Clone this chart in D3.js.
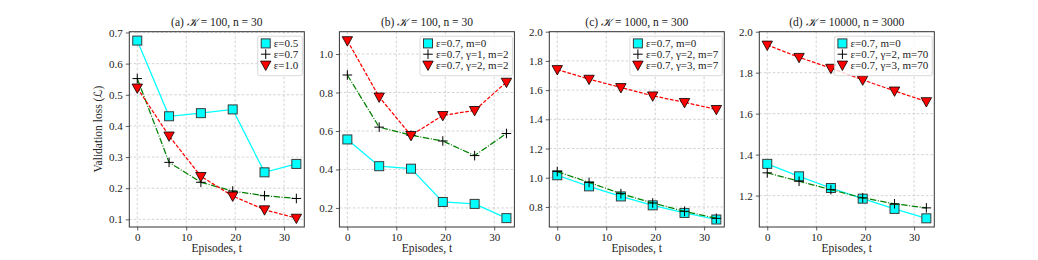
<!DOCTYPE html>
<html><head><meta charset="utf-8">
<script src="https://cdn.jsdelivr.net/npm/d3@7"></script>
<style>
body{margin:0;background:#fff}
text{font-family:"Liberation Serif","Times New Roman",Times,serif;fill:#222}
</style>
</head><body>
<svg id="chart" width="1038" height="260"></svg>
<script>
// ---------------- data ----------------
const episodes = [0, 6.5, 13, 19.5, 26, 32.5];
const xTicks = [0, 10, 20, 30];

const titles = ["(a) ", "(b) ", "(c) ", "(d) "];
const titleTail = [" = 100, n = 30", " = 100, n = 30", " = 1000, n = 300", " = 10000, n = 3000"];

// panel (a)
const aEps05 = [0.674, 0.431, 0.441, 0.453, 0.251, 0.278];
const aEps07 = [0.552, 0.283, 0.219, 0.191, 0.176, 0.167];
const aEps10 = [0.522, 0.368, 0.238, 0.175, 0.131, 0.104];
const aLabels = ["ε=0.5", "ε=0.7", "ε=1.0"];
const aTicks = [0.1, 0.2, 0.3, 0.4, 0.5, 0.6, 0.7];

// panel (b)
const bM0   = [0.556, 0.417, 0.404, 0.231, 0.221, 0.147];
const bG1M2 = [0.891, 0.620, 0.578, 0.548, 0.472, 0.587];
const bG2M2 = [1.070, 0.777, 0.577, 0.681, 0.707, 0.854];
const bLabels = ["ε=0.7, m=0", "ε=0.7, γ=1, m=2", "ε=0.7, γ=2, m=2"];
const bTicks = [0.2, 0.4, 0.6, 0.8, 1.0];

// panel (c)
const cM0   = [1.017, 0.941, 0.872, 0.811, 0.759, 0.714];
const cG2M7 = [1.042, 0.968, 0.891, 0.827, 0.770, 0.722];
const cG3M7 = [1.741, 1.675, 1.618, 1.561, 1.516, 1.468];
const cLabels = ["ε=0.7, m=0", "ε=0.7, γ=2, m=7", "ε=0.7, γ=3, m=7"];
const cTicks = [0.8, 1.0, 1.2, 1.4, 1.6, 1.8, 2.0];

// panel (d)
const dM0    = [1.355, 1.294, 1.237, 1.185, 1.135, 1.089];
const dG2M70 = [1.311, 1.270, 1.229, 1.189, 1.160, 1.140];
const dG3M70 = [1.935, 1.875, 1.822, 1.765, 1.711, 1.659];
const dLabels = ["ε=0.7, m=0", "ε=0.7, γ=2, m=70", "ε=0.7, γ=3, m=70"];
const dTicks = [1.2, 1.4, 1.6, 1.8, 2.0];

const yTopLimit = [null, null, 2.0, 2.0];

// ---------------- layout ----------------
const panels = [
  {series:[aEps05, aEps07, aEps10], labels:aLabels, ticks:aTicks},
  {series:[bM0, bG1M2, bG2M2], labels:bLabels, ticks:bTicks},
  {series:[cM0, cG2M7, cG3M7], labels:cLabels, ticks:cTicks},
  {series:[dM0, dG2M70, dG3M70], labels:dLabels, ticks:dTicks}
];
const lefts = [129.3, 339.4, 549.3, 759.3];
const W = 175, plotTop = 31.7, plotBottom = 227;
const FONT = '"Liberation Serif","Times New Roman",Times,serif';

const styles = [
  {color:"#00ffff", dash:null, marker:"square"},
  {color:"#008000", dash:"6.4,1.6,1,1.6", marker:"plus"},
  {color:"#ff0000", dash:"3.7,1.6", marker:"tri"}
];

const svg = d3.select("#chart");

function drawMarker(g, type, x, y) {
  if (type === "square") {
    g.append("rect").attr("x", x-4.5).attr("y", y-4.5).attr("width", 9).attr("height", 9)
      .attr("fill", "#00ffff").attr("stroke", "#3a3a3a").attr("stroke-width", 1);
  } else if (type === "plus") {
    g.append("path").attr("d", `M${x-4.8},${y}H${x+4.8}M${x},${y-4.8}V${y+4.8}`)
      .attr("stroke", "#000").attr("stroke-width", 1).attr("fill", "none");
  } else {
    const s = 5.2;
    g.append("path").attr("d", `M${x-s},${y-s*0.75}L${x+s},${y-s*0.75}L${x},${y+s*1.05}Z`)
      .attr("fill", "#ff0000").attr("stroke", "#000").attr("stroke-width", 0.8);
  }
}

panels.forEach((p, i) => {
  const x0 = lefts[i];
  const x = d3.scaleLinear().domain([-1.625, 34.125]).range([x0, x0 + W]);
  const all = p.series.flat();
  const mn = d3.min(all), mx = d3.max(all), m = (mx - mn) * 0.05;
  const y = d3.scaleLinear().domain([mn - m, yTopLimit[i] ?? (mx + m)]).range([plotBottom, plotTop]);

  const g = svg.append("g");

  // grid
  g.append("g").selectAll("line").data(xTicks).join("line")
    .attr("x1", d => x(d)).attr("x2", d => x(d)).attr("y1", plotTop).attr("y2", plotBottom)
    .attr("stroke", "#c8c8c8").attr("stroke-width", 0.8).attr("stroke-dasharray", "2.5,2");
  g.append("g").selectAll("line").data(p.ticks).join("line")
    .attr("y1", d => y(d)).attr("y2", d => y(d)).attr("x1", x0).attr("x2", x0 + W)
    .attr("stroke", "#c8c8c8").attr("stroke-width", 0.8).attr("stroke-dasharray", "2.5,2");

  // axes
  const xa = g.append("g").attr("transform", `translate(0,${plotBottom})`)
    .call(d3.axisBottom(x).tickValues(xTicks).tickSize(3.5).tickPadding(3).tickFormat(d3.format("d")));
  const ya = g.append("g").attr("transform", `translate(${x0},0)`)
    .call(d3.axisLeft(y).tickValues(p.ticks).tickSize(3.5).tickPadding(3).tickFormat(d3.format(".1f")));
  [xa, ya].forEach(a => {
    a.attr("font-family", FONT);
    a.select(".domain").remove();
    a.selectAll("line").attr("stroke", "#333").attr("stroke-width", 0.8);
    a.selectAll("text").style("font-family", FONT).style("font-size", "11px").attr("fill", "#222");
  });

  // series
  const sg = g.append("g");
  p.series.forEach((vals, k) => {
    const st = styles[k];
    const line = d3.line().x((d, j) => x(episodes[j])).y(d => y(d));
    sg.append("path").datum(vals).attr("d", line).attr("fill", "none")
      .attr("stroke", st.color).attr("stroke-width", 1.25)
      .attr("stroke-dasharray", st.dash);
    vals.forEach((v, j) => drawMarker(sg, st.marker, x(episodes[j]), y(v)));
  });

  // frame
  g.append("rect").attr("x", x0).attr("y", plotTop).attr("width", W).attr("height", plotBottom - plotTop)
    .attr("fill", "none").attr("stroke", "#333").attr("stroke-width", 1);

  // title
  const t = g.append("text").attr("x", x0 + W / 2).attr("y", plotTop - 6).attr("text-anchor", "middle")
    .style("font-size", "11.5px");
  t.append("tspan").text(titles[i]);
  t.append("tspan").text("𝒦").style("font-style", "italic").style("font-family", '"DejaVu Serif","DejaVu Sans",serif');
  t.append("tspan").text(titleTail[i]);

  // x label
  g.append("text").attr("x", x0 + W / 2).attr("y", plotBottom + 25).attr("text-anchor", "middle")
    .style("font-size", "11.5px").text("Episodes, t");

  // legend
  const lg = g.append("g");
  const box = lg.append("rect");
  const rowH = 10.8;
  const texts = p.labels.map((lab, k) => lg.append("text").attr("y", plotTop + 11.7 + k * rowH + 4)
    .style("font-size", "11px").text(lab));
  const tw = d3.max(texts, t => t.node().getComputedTextLength());
  const bw = tw + 20, bx = x0 + W - 2 - bw, by = plotTop + 4.5;
  box.attr("x", bx).attr("y", by).attr("width", bw).attr("height", 39.5).attr("rx", 2)
    .attr("fill", "#fff").attr("fill-opacity", 0.8).attr("stroke", "#d0d0d0").attr("stroke-width", 0.8);
  texts.forEach(t => t.attr("x", bx + 16));
  styles.forEach((st, k) => drawMarker(lg, st.marker, bx + 8, plotTop + 11.7 + k * rowH));
});

// y label
svg.append("text").attr("transform", "translate(102,129) rotate(-90)").attr("text-anchor", "middle")
  .style("font-size", "11.5px")
  .call(t => {
    t.append("tspan").text("Validation loss (");
    t.append("tspan").text("ℒ").style("font-style", "italic").style("font-family", '"DejaVu Serif","DejaVu Sans",serif');
    t.append("tspan").text(")");
  });
</script>
</body></html>
